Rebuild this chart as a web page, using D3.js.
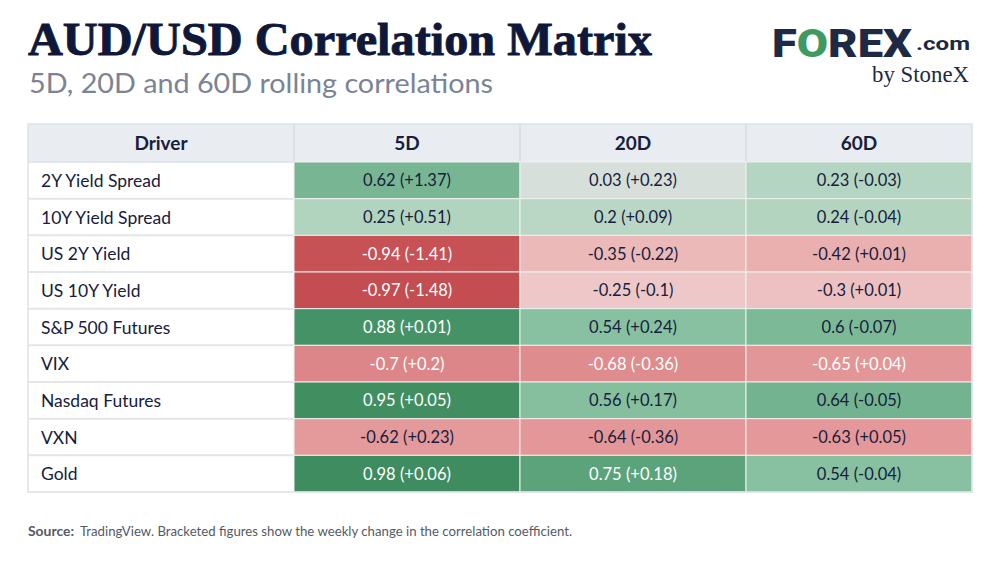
<!DOCTYPE html>
<html>
<head>
<meta charset="utf-8">
<script src="https://cdn.jsdelivr.net/npm/d3@7"></script>
<style>
  html, body { margin: 0; padding: 0; background: #fff; }
  svg { display: block; }
</style>
</head>
<body>
<div id="chart"></div>
<script>
const drivers = ["2Y Yield Spread", "10Y Yield Spread", "US 2Y Yield", "US 10Y Yield", "S&P 500 Futures", "VIX", "Nasdaq Futures", "VXN", "Gold"];
const periods = ["5D", "20D", "60D"];

// correlation coefficient and its weekly change, per period
const corr5D = [0.62, 0.25, -0.94, -0.97, 0.88, -0.7, 0.95, -0.62, 0.98];
const chg5D = [1.37, 0.51, -1.41, -1.48, 0.01, 0.2, 0.05, 0.23, 0.06];
const corr20D = [0.03, 0.2, -0.35, -0.25, 0.54, -0.68, 0.56, -0.64, 0.75];
const chg20D = [0.23, 0.09, -0.22, -0.1, 0.24, -0.36, 0.17, -0.36, 0.18];
const corr60D = [0.23, 0.24, -0.42, -0.3, 0.6, -0.65, 0.64, -0.63, 0.54];
const chg60D = [-0.03, -0.04, 0.01, 0.01, -0.07, 0.04, -0.05, 0.05, -0.04];

const corrByPeriod = { "5D": corr5D, "20D": corr20D, "60D": corr60D };
const chgByPeriod = { "5D": chg5D, "20D": chg20D, "60D": chg60D };

const width = 1000, height = 563;
const table = { left: 28, right: 972, top: 124, headH: 38, bottom: 492, driverW: 266 };
const navy = "#16203d";
const sans = "Lato, 'Open Sans', sans-serif";

const svg = d3.select("#chart").append("svg")
  .attr("width", width)
  .attr("height", height)
  .attr("viewBox", `0 0 ${width} ${height}`);

// ---- title block
svg.append("text")
  .attr("x", 28).attr("y", 55)
  .attr("font-family", "'Liberation Serif', 'DejaVu Serif', serif")
  .attr("font-weight", 700)
  .attr("font-size", 47)
  .attr("fill", "#0f1838")
  .attr("stroke", "#0f1838")
  .attr("stroke-width", 0.9)
  .attr("textLength", 624)
  .attr("lengthAdjust", "spacingAndGlyphs")
  .text("AUD/USD Correlation Matrix");

svg.append("text")
  .attr("x", 29).attr("y", 93)
  .attr("font-family", sans)
  .attr("font-size", 26)
  .attr("fill", "#7b8394")
  .attr("textLength", 464)
  .attr("lengthAdjust", "spacingAndGlyphs")
  .text("5D, 20D and 60D rolling correlations");

// ---- logo
const logo = svg.append("g").attr("class", "logo");
logo.append("text")
  .attr("x", 772).attr("y", 57)
  .attr("font-family", "Roboto, Inter, sans-serif")
  .attr("font-weight", 900)
  .attr("font-size", 39)
  .attr("fill", "#1e2a44")
  .attr("textLength", 140)
  .attr("lengthAdjust", "spacingAndGlyphs")
  .call(t => {
    t.append("tspan").text("F");
    t.append("tspan").attr("fill", "#3f9a62").text("O");
    t.append("tspan").text("REX");
  });
logo.append("text")
  .attr("x", 916).attr("y", 50)
  .attr("font-family", "Roboto, Inter, sans-serif")
  .attr("font-weight", 700)
  .attr("font-size", 19)
  .attr("fill", "#1e2a44")
  .attr("textLength", 54)
  .attr("lengthAdjust", "spacingAndGlyphs")
  .text(".com");
logo.append("text")
  .attr("x", 969).attr("y", 82)
  .attr("text-anchor", "end")
  .attr("font-family", "'Liberation Serif', serif")
  .attr("font-size", 23)
  .attr("fill", "#1e2a44")
  .attr("textLength", 97)
  .attr("lengthAdjust", "spacingAndGlyphs")
  .text("by StoneX");

// ---- scales
const x = d3.scaleBand()
  .domain(periods)
  .range([table.left + table.driverW, table.right]);

const y = d3.scaleBand()
  .domain(drivers)
  .range([table.top + table.headH, table.bottom]);

const color = d3.scaleLinear()
  .domain([-1, -0.75, -0.65, -0.4, -0.25, 0, 0.25, 0.55, 0.7, 0.85, 1])
  .range(["#c1474a", "#d5767a", "#e39697", "#ebb2b2", "#eec8c8", "#dce1de",
          "#b1d4bf", "#87c0a0", "#66aa85", "#48946a", "#3d8b5d"])
  .interpolate(d3.interpolateRgb)
  .clamp(true);

const fmtChg = v => (v > 0 ? "+" : "") + v;

const cells = periods.flatMap(p => drivers.map((d, i) => ({
  driver: d, period: p, value: corrByPeriod[p][i], change: chgByPeriod[p][i]
})));

// ---- header
const head = svg.append("g").attr("class", "header");
head.append("rect")
  .attr("x", table.left).attr("y", table.top)
  .attr("width", table.right - table.left).attr("height", table.headH)
  .attr("fill", "#e9ecf1");

head.selectAll("line.sep")
  .data(periods)
  .join("line")
  .attr("class", "sep")
  .attr("x1", d => x(d)).attr("x2", d => x(d))
  .attr("y1", table.top).attr("y2", table.top + table.headH)
  .attr("stroke", "#d6dde0").attr("stroke-width", 1.5);

head.selectAll("text")
  .data(["Driver", ...periods])
  .join("text")
  .attr("x", d => d === "Driver" ? table.left + table.driverW / 2 : x(d) + x.bandwidth() / 2)
  .attr("y", table.top + table.headH / 2 + 6.5)
  .attr("text-anchor", "middle")
  .attr("font-family", sans)
  .attr("font-weight", 700)
  .attr("font-size", 19)
  .attr("fill", navy)
  .text(d => d);

// ---- driver column
const rows = svg.append("g").attr("class", "drivers");
rows.selectAll("rect")
  .data(drivers)
  .join("rect")
  .attr("x", table.left).attr("y", d => y(d))
  .attr("width", table.driverW).attr("height", y.bandwidth())
  .attr("fill", "#fff");

rows.selectAll("line")
  .data(drivers)
  .join("line")
  .attr("x1", table.left).attr("x2", table.left + table.driverW)
  .attr("y1", d => y(d)).attr("y2", d => y(d))
  .attr("stroke", "#e2e6ea").attr("stroke-width", 2);

rows.selectAll("text")
  .data(drivers)
  .join("text")
  .attr("x", table.left + 13)
  .attr("y", d => y(d) + y.bandwidth() / 2 + 6.5)
  .attr("font-family", sans)
  .attr("font-size", 17.5)
  .attr("fill", navy)
  .text(d => d);

// ---- value cells
const cell = svg.append("g").attr("class", "cells")
  .selectAll("g")
  .data(cells)
  .join("g")
  .attr("transform", d => `translate(${x(d.period)},${y(d.driver)})`);

cell.append("rect")
  .attr("width", x.bandwidth())
  .attr("height", y.bandwidth())
  .attr("fill", d => color(d.value))
  .attr("stroke", "#eef1f0")
  .attr("stroke-width", 1);

cell.append("text")
  .attr("x", x.bandwidth() / 2)
  .attr("y", y.bandwidth() / 2 + 6)
  .attr("text-anchor", "middle")
  .attr("font-family", sans)
  .attr("font-size", 16.5)
  .attr("fill", d => Math.abs(d.value) >= 0.645 ? "#ffffff" : navy)
  .text(d => `${d.value} (${fmtChg(d.change)})`);

// ---- outer border
svg.append("rect")
  .attr("x", table.left).attr("y", table.top)
  .attr("width", table.right - table.left)
  .attr("height", table.bottom - table.top)
  .attr("fill", "none")
  .attr("stroke", "#dce2e5")
  .attr("stroke-width", 1.5);

// ---- source note
const src = svg.append("g").attr("class", "source")
  .attr("font-family", sans)
  .attr("font-size", 13.5)
  .attr("fill", "#545a66");
src.append("text")
  .attr("x", 28).attr("y", 536)
  .attr("font-weight", 700)
  .attr("textLength", 46)
  .attr("lengthAdjust", "spacingAndGlyphs")
  .text("Source:");
src.append("text")
  .attr("x", 80).attr("y", 536)
  .attr("textLength", 492)
  .attr("lengthAdjust", "spacingAndGlyphs")
  .text("TradingView. Bracketed figures show the weekly change in the correlation coefficient.");
</script>
</body>
</html>
